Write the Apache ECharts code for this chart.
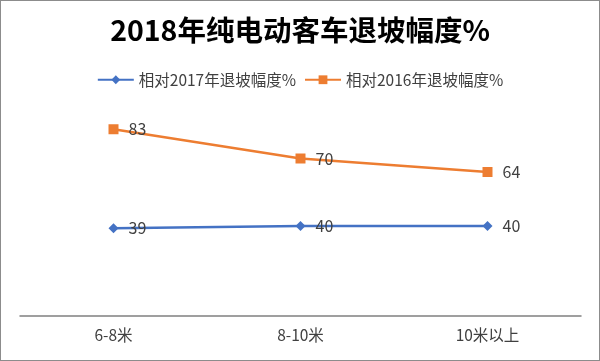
<!DOCTYPE html>
<html><head><meta charset="utf-8">
<script src="https://cdn.jsdelivr.net/npm/echarts@6/dist/echarts.min.js"></script>
<style>html,body{margin:0;padding:0;background:#fff}#c{width:598px;height:359px;border:1px solid #8c8c8c;}</style>
</head><body><div id="c"></div>
<script>
const titleText = '2018年纯电动客车退坡幅度%';
const categories = ['6-8米', '8-10米', '10米以上'];
const seriesNames = ['相对2017年退坡幅度%', '相对2016年退坡幅度%'];
const vs2017 = [39, 40, 40];
const vs2016 = [83, 70, 64];

const font = '"Noto Sans CJK SC", "Noto Sans", sans-serif';
const chart = echarts.init(document.getElementById('c'));
chart.setOption({
  animation: false,
  title: {text: titleText, left: 'center', top: 10,
    textStyle: {fontFamily: font, fontSize: 28.5, fontWeight: 'bold', color: '#000'}},
  legend: {data: seriesNames, top: 66, left: 'center', itemGap: 8, itemWidth: 36, itemHeight: 11,
    textStyle: {fontFamily: font, fontSize: 15.5, color: '#404040'}},
  grid: {left: 19, right: 18, top: 90, bottom: 44, containLabel: false},
  xAxis: {type: 'category', data: categories, boundaryGap: true,
    axisLine: {lineStyle: {color: '#808080', width: 1.5}}, axisTick: {show: false},
    axisLabel: {fontFamily: font, fontSize: 15.5, color: '#404040', margin: 11}},
  yAxis: {type: 'value', min: 0, max: 100, show: false, splitLine: {show: false}},
  series: [
    {name: seriesNames[0], type: 'line', data: vs2017, symbol: 'diamond', symbolSize: 10,
      itemStyle: {color: '#4472C4'}, lineStyle: {width: 2.5, color: '#4472C4'},
      label: {show: true, position: 'right', distance: 10, fontFamily: font, fontSize: 16, color: '#404040'}},
    {name: seriesNames[1], type: 'line', data: vs2016, symbol: 'rect', symbolSize: 10,
      itemStyle: {color: '#ED7D31'}, lineStyle: {width: 2.5, color: '#ED7D31'},
      label: {show: true, position: 'right', distance: 10, fontFamily: font, fontSize: 16, color: '#404040'}}
  ]
});
</script></body></html>
